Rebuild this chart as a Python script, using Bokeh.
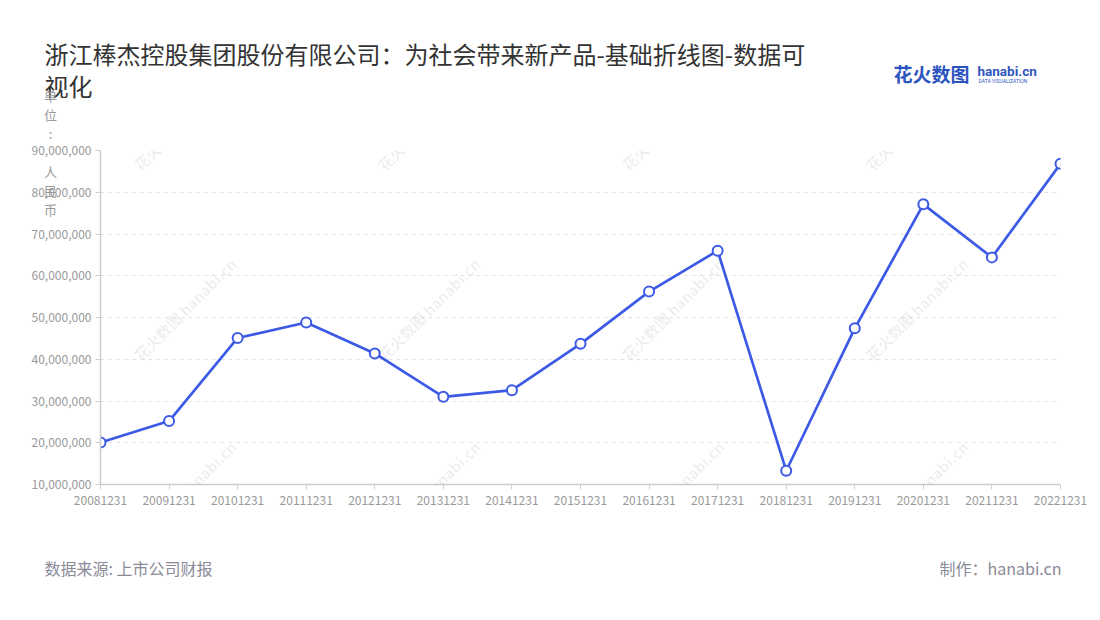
import math
from bokeh.plotting import figure
from bokeh.models import (ColumnDataSource, Range1d, FixedTicker, SingleIntervalTicker,
                          NumeralTickFormatter, Label)
from bokeh.embed import file_html
from bokeh.resources import INLINE

# ---------------- data ----------------
dates = ["20081231", "20091231", "20101231", "20111231", "20121231", "20131231",
         "20141231", "20151231", "20161231", "20171231", "20181231", "20191231",
         "20201231", "20211231", "20221231"]
revenue = [20_050_000, 25_200_000, 45_100_000, 48_800_000, 41_400_000, 31_000_000,
           32_600_000, 43_700_000, 56_200_000, 66_000_000, 13_300_000, 47_400_000,
           77_100_000, 64_400_000, 86_800_000]
y_min, y_max, y_step = 10_000_000, 90_000_000, 10_000_000

title_lines = ["浙江棒杰控股集团股份有限公司：为社会带来新产品-基础折线图-数据可", "视化"]
unit_text = "单位: 人民币"
source_text = "数据来源: 上市公司财报"
maker_text = "制作：hanabi.cn"
watermark_text = "花火数图 hanabi.cn"

FONT = "Noto Sans CJK SC"
LINE_COLOR = "#3c5ae6"

W, H = 1092, 612

xs = list(range(len(dates)))
src = ColumnDataSource(data=dict(x=xs, y=revenue, d=dates))

p = figure(width=W, height=H, output_backend="svg", toolbar_location=None,
           x_range=Range1d(0, len(dates) - 1), y_range=Range1d(y_min, y_max),
           min_border_left=100, min_border_right=W - 1060, min_border_top=150,
           min_border_bottom=H - 484)
p.title.visible = False
p.outline_line_color = None
p.background_fill_color = "white"
p.border_fill_color = "white"

# axes
p.xaxis.ticker = FixedTicker(ticks=xs)
p.xaxis.major_label_overrides = {i: d for i, d in zip(xs, dates)}
p.yaxis.ticker = SingleIntervalTicker(interval=y_step)
p.yaxis.formatter = NumeralTickFormatter(format="0,0")
for ax in (p.xaxis[0], p.yaxis[0]):
    ax.axis_line_color = "#cccccc"
    ax.axis_line_width = 1.5
    ax.major_tick_line_color = "#cccccc"
    ax.major_tick_out = 5
    ax.major_tick_in = 0
    ax.minor_tick_line_color = None
    ax.major_label_text_color = "#999999"
    ax.major_label_text_font = FONT
    ax.major_label_text_font_size = "12px"
p.xaxis.major_label_standoff = 6
p.yaxis.major_label_standoff = 4

p.xgrid.visible = False
p.ygrid.grid_line_color = "#e3e3e3"
p.ygrid.grid_line_dash = "4 4"
p.ygrid.ticker = SingleIntervalTicker(interval=y_step)

def lab(px, py, text, place="center", **kw):
    p.add_layout(Label(x=px, y=py, x_units="canvas", y_units="canvas",
                       text=text, **kw), place)

# watermarks (faint)
for row_y in (167, 357, 540):
    for col_x in (136, 380, 624, 868):
        lab(col_x, row_y, watermark_text, angle=math.pi / 4,
            text_font=FONT, text_font_style="bold", text_font_size="15px",
            text_color="#000000", text_alpha=0.07,
            text_align="left", text_baseline="middle")

# series
p.line("x", "y", source=src, line_color=LINE_COLOR, line_width=2.7)
p.scatter("x", "y", source=src, size=10, marker="circle", fill_color="white",
          line_color=LINE_COLOR, line_width=2)

# title (two lines, wrapped like the reference)
lab(44, 35, "\n".join(title_lines), place="above", text_font=FONT,
    text_font_size="24px", text_line_height=0.94,
    text_color="#333333", text_baseline="top")

# vertical unit label (stacked characters)
lab(50, 85, "\n".join(list(unit_text)), place="left", text_font=FONT,
    text_font_size="13px", text_line_height=1.0,
    text_color="#999999", text_align="center", text_baseline="top")

# footer
lab(44, 567, source_text, place="below", text_font=FONT, text_font_size="16px",
    text_color="#8a8a99", text_baseline="middle")
lab(1061, 567, maker_text, place="below", text_font=FONT, text_font_size="16px",
    text_color="#8a8a99", text_align="right", text_baseline="middle")

# logo
lab(893, 73, "花火数图", place="above", text_font=FONT, text_font_style="bold",
    text_font_size="19px", text_color="#2d55bf", text_baseline="middle")
lab(977, 70, "hanabi.cn", place="above", text_font="Roboto", text_font_style="bold",
    text_font_size="13.5px", text_color="#2d55bf", text_baseline="middle")
lab(978, 80, "DATA VISUALIZATION", place="above", text_font="Roboto",
    text_font_size="5px", text_color="#2d55bf", text_baseline="middle")

open("out.html", "w").write(file_html(p, INLINE))
